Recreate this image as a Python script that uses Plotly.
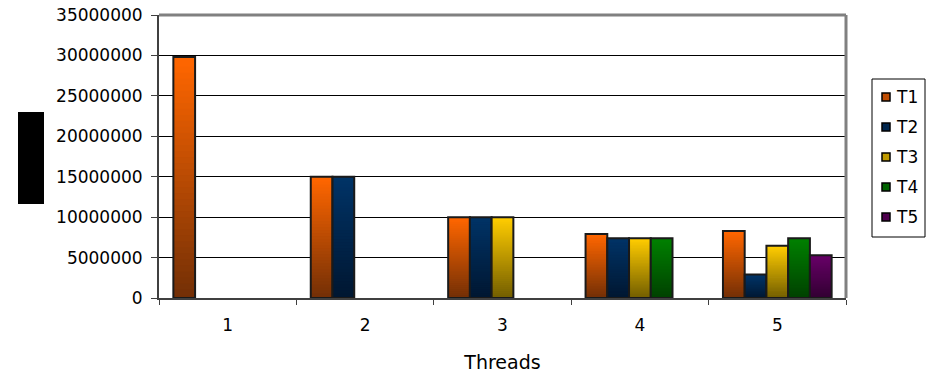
import plotly.graph_objects as go

# Run time per thread, by number of threads in use
threads = ["1", "2", "3", "4", "5"]
series_names = ["T1", "T2", "T3", "T4", "T5"]
t1 = [29800000, 15000000, 10000000, 7900000, 8300000]
t2 = [None, 15000000, 10000000, 7400000, 2900000]
t3 = [None, None, 10000000, 7400000, 6450000]
t4 = [None, None, None, 7400000, 7400000]
t5 = [None, None, None, None, 5300000]
series_values = [t1, t2, t3, t4, t5]

# gradient colours per series: (top, bottom)
top_colors = [(255, 102, 0), (0, 51, 102), (255, 204, 0), (0, 128, 0), (102, 0, 102)]
bottom_colors = [(112, 46, 6), (0, 22, 48), (112, 92, 0), (0, 64, 0), (48, 0, 48)]

FONT = "DejaVu Sans"
N_STEPS = 40

fig = go.Figure()


def mix(c_top, c_bot, t):
    return "rgb(%d,%d,%d)" % tuple(round(b + (a - b) * t) for a, b in zip(c_top, c_bot))


for s, (name, vals) in enumerate(zip(series_names, series_values)):
    group = "s%d" % s
    # vertical gradient: each bar split into stacked slices; every slice reaches a
    # little below its own start so that no seam shows between neighbours
    for k in range(N_STEPS):
        frac = (k + 0.5) / N_STEPS
        lo = max(k - 0.6, 0)
        fig.add_trace(go.Bar(
            x=threads,
            y=[None if v is None else v * (k + 1 - lo) / N_STEPS for v in vals],
            base=[None if v is None else v * lo / N_STEPS for v in vals],
            offsetgroup=group,
            showlegend=False,
            hoverinfo="skip",
            marker=dict(color=mix(top_colors[s], bottom_colors[s], frac), line=dict(width=0)),
        ))
    # bar outline on top of the gradient
    fig.add_trace(go.Bar(
        x=threads, y=vals, offsetgroup=group, showlegend=False, name=name,
        marker=dict(color="rgba(0,0,0,0)", line=dict(color="#1a1a1a", width=2)),
    ))

L, R, T, B = 159, 846, 15, 298
W, H = 930, 373


def px_x(x):
    return (x - L) / (R - L)


def px_y(y):
    return (B - y) / (B - T)


shapes = [
    # top and right frame of the plot area
    dict(type="line", xref="paper", yref="paper", x0=0, x1=1, y0=1, y1=1,
         line=dict(color="#808080", width=3), layer="above"),
    dict(type="line", xref="paper", yref="paper", x0=1, x1=1, y0=0, y1=1,
         line=dict(color="#808080", width=3), layer="above"),
    # blacked-out axis title
    dict(type="rect", xref="paper", yref="paper",
         x0=px_x(18), x1=px_x(44), y0=px_y(204), y1=px_y(112),
         fillcolor="black", line=dict(width=0), layer="above"),
    # legend frame
    dict(type="rect", xref="paper", yref="paper",
         x0=px_x(872), x1=px_x(925), y0=px_y(237), y1=px_y(79),
         fillcolor="white", line=dict(color="black", width=1), layer="above"),
]
annotations = []

# legend entries: swatch plus series name
for s, name in enumerate(series_names):
    cy = 97 + 30 * s
    shapes.append(dict(
        type="rect", xref="paper", yref="paper",
        x0=px_x(882), x1=px_x(890), y0=px_y(cy + 4), y1=px_y(cy - 4),
        fillcolor=mix(top_colors[s], bottom_colors[s], 0.55),
        line=dict(color="black", width=1.5), layer="above",
    ))
    annotations.append(dict(
        text=name, xref="paper", yref="paper", x=px_x(894), y=px_y(cy),
        xanchor="left", yanchor="middle", showarrow=False,
        font=dict(family=FONT, size=17, color="black"),
    ))

fig.update_layout(
    width=W, height=H,
    margin=dict(l=L, r=W - R, t=T, b=H - B, pad=0, autoexpand=False),
    paper_bgcolor="white", plot_bgcolor="white",
    barmode="group", bargap=0.209, bargroupgap=0,
    font=dict(family=FONT, size=17, color="black"),
    showlegend=False,
    xaxis=dict(
        type="category", showgrid=False, showline=True, linecolor="#404040", linewidth=2,
        ticks="outside", tickson="boundaries", ticklen=5, tickcolor="#404040",
        tickfont=dict(family=FONT, size=17), ticklabelstandoff=11,
        title=dict(text="Threads", font=dict(family=FONT, size=19), standoff=22),
    ),
    yaxis=dict(
        range=[0, 35000000], dtick=5000000, tickformat="d",
        showgrid=True, gridcolor="black", gridwidth=1,
        showline=True, linecolor="#404040", linewidth=2,
        ticks="outside", ticklen=6, tickcolor="#404040",
        tickfont=dict(family=FONT, size=17), ticklabelstandoff=5,
        zeroline=False,
    ),
    shapes=shapes,
    annotations=annotations,
)

fig.write_html("out.html")
